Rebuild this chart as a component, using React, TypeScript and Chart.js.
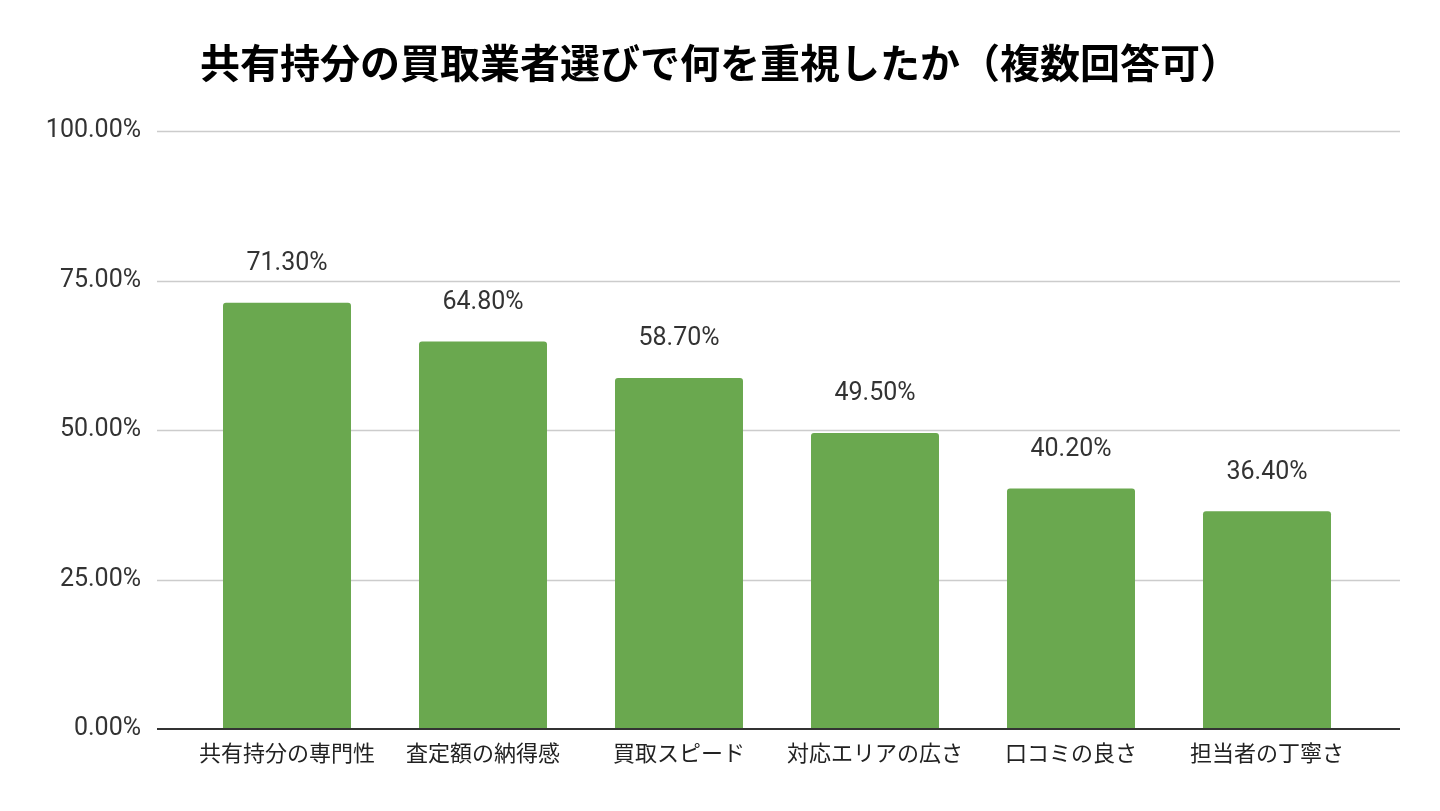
import React, { useEffect, useRef } from "react";
import { Chart, registerables } from "chart.js";

Chart.register(...registerables);

const TITLE = "共有持分の買取業者選びで何を重視したか（複数回答可）";
const categories = [
  "共有持分の専門性",
  "査定額の納得感",
  "買取スピード",
  "対応エリアの広さ",
  "口コミの良さ",
  "担当者の丁寧さ",
];
const values = [71.3, 64.8, 58.7, 49.5, 40.2, 36.4];
const yTickValues = [0, 25, 50, 75, 100];

const BAR_COLOR = "#6aa84f";
const GRID_COLOR = "#cccccc";
const ZERO_COLOR = "#333333";
const LABEL_FONT = "Roboto, 'Noto Sans', sans-serif";
const CJK_FONT = "'Noto Sans CJK JP', 'Noto Sans', sans-serif";

const fmt = (v: number) => v.toFixed(2) + "%";

const gridPlugin = {
  id: "extendedGrid",
  beforeDatasetsDraw(chart: any) {
    const { ctx, chartArea, scales } = chart;
    const y = scales.y;
    ctx.save();
    ctx.strokeStyle = GRID_COLOR;
    ctx.lineWidth = 1.5;
    yTickValues.forEach((v) => {
      if (v === 0) return;
      const py = Math.round(y.getPixelForValue(v)) + 0.5;
      ctx.beginPath();
      ctx.moveTo(chartArea.left - 32, py);
      ctx.lineTo(chartArea.right + 35, py);
      ctx.stroke();
    });
    ctx.restore();
  },
  afterDatasetsDraw(chart: any) {
    const { ctx, chartArea, scales } = chart;
    const y = scales.y;
    ctx.save();
    ctx.strokeStyle = ZERO_COLOR;
    ctx.lineWidth = 2;
    const py0 = y.getPixelForValue(0);
    ctx.beginPath();
    ctx.moveTo(chartArea.left - 32, py0);
    ctx.lineTo(chartArea.right + 35, py0);
    ctx.stroke();
    const meta = chart.getDatasetMeta(0);
    ctx.fillStyle = "#333333";
    ctx.font = `25px ${LABEL_FONT}`;
    ctx.textAlign = "center";
    ctx.textBaseline = "middle";
    meta.data.forEach((bar: any, i: number) => {
      ctx.fillText(fmt(values[i]), bar.x, bar.y - 39);
    });
    ctx.restore();
  },
};

export default function App() {
  const canvasRef = useRef<HTMLCanvasElement | null>(null);

  useEffect(() => {
    document.body.style.margin = "0";
    const canvas = canvasRef.current;
    if (!canvas) return;
    const chart = new Chart(canvas, {
      type: "bar",
      data: {
        labels: categories,
        datasets: [
          {
            data: values,
            backgroundColor: BAR_COLOR,
            borderRadius: { topLeft: 3, topRight: 3, bottomLeft: 0, bottomRight: 0 },
            borderSkipped: false,
            categoryPercentage: 1,
            barPercentage: 0.653,
          },
        ],
      },
      options: {
        animation: false,
        responsive: true,
        maintainAspectRatio: false,
        devicePixelRatio: 1,
        layout: { padding: 0 },
        plugins: {
          legend: { display: false },
          tooltip: { enabled: false },
          title: {
            display: true,
            text: TITLE,
            color: "#000000",
            font: { family: CJK_FONT, size: 40, weight: "bold", lineHeight: 1.2 },
            padding: { top: 39, bottom: 44 },
          },
        },
        scales: {
          x: {
            grid: { display: false, drawTicks: false },
            border: { display: false },
            ticks: {
              color: "#222222",
              font: { family: CJK_FONT, size: 22 },
              padding: 10,
              maxRotation: 0,
              autoSkip: false,
            },
            afterFit: (scale: any) => {
              scale.height = 82;
            },
          },
          y: {
            min: 0,
            max: 100,
            grid: { display: false, drawTicks: false },
            border: { display: false },
            afterBuildTicks: (scale: any) => {
              scale.ticks = yTickValues.map((v) => ({ value: v }));
            },
            ticks: {
              color: "#333333",
              font: { family: LABEL_FONT, size: 25 },
              padding: 48,
              callback: (v: any) => fmt(Number(v)),
            },
            afterFit: (scale: any) => {
              scale.width = 189;
            },
          },
          yRight: {
            position: "right",
            min: 0,
            max: 100,
            grid: { display: false, drawTicks: false },
            border: { display: false },
            ticks: { display: false },
            afterFit: (scale: any) => {
              scale.width = 75;
            },
          },
        },
      },
      plugins: [gridPlugin],
    });
    return () => chart.destroy();
  }, []);

  return (
    <div style={{ position: "absolute", left: 0, top: 0, width: 1440, height: 811, background: "#ffffff" }}>
      <canvas ref={canvasRef} />
    </div>
  );
}
